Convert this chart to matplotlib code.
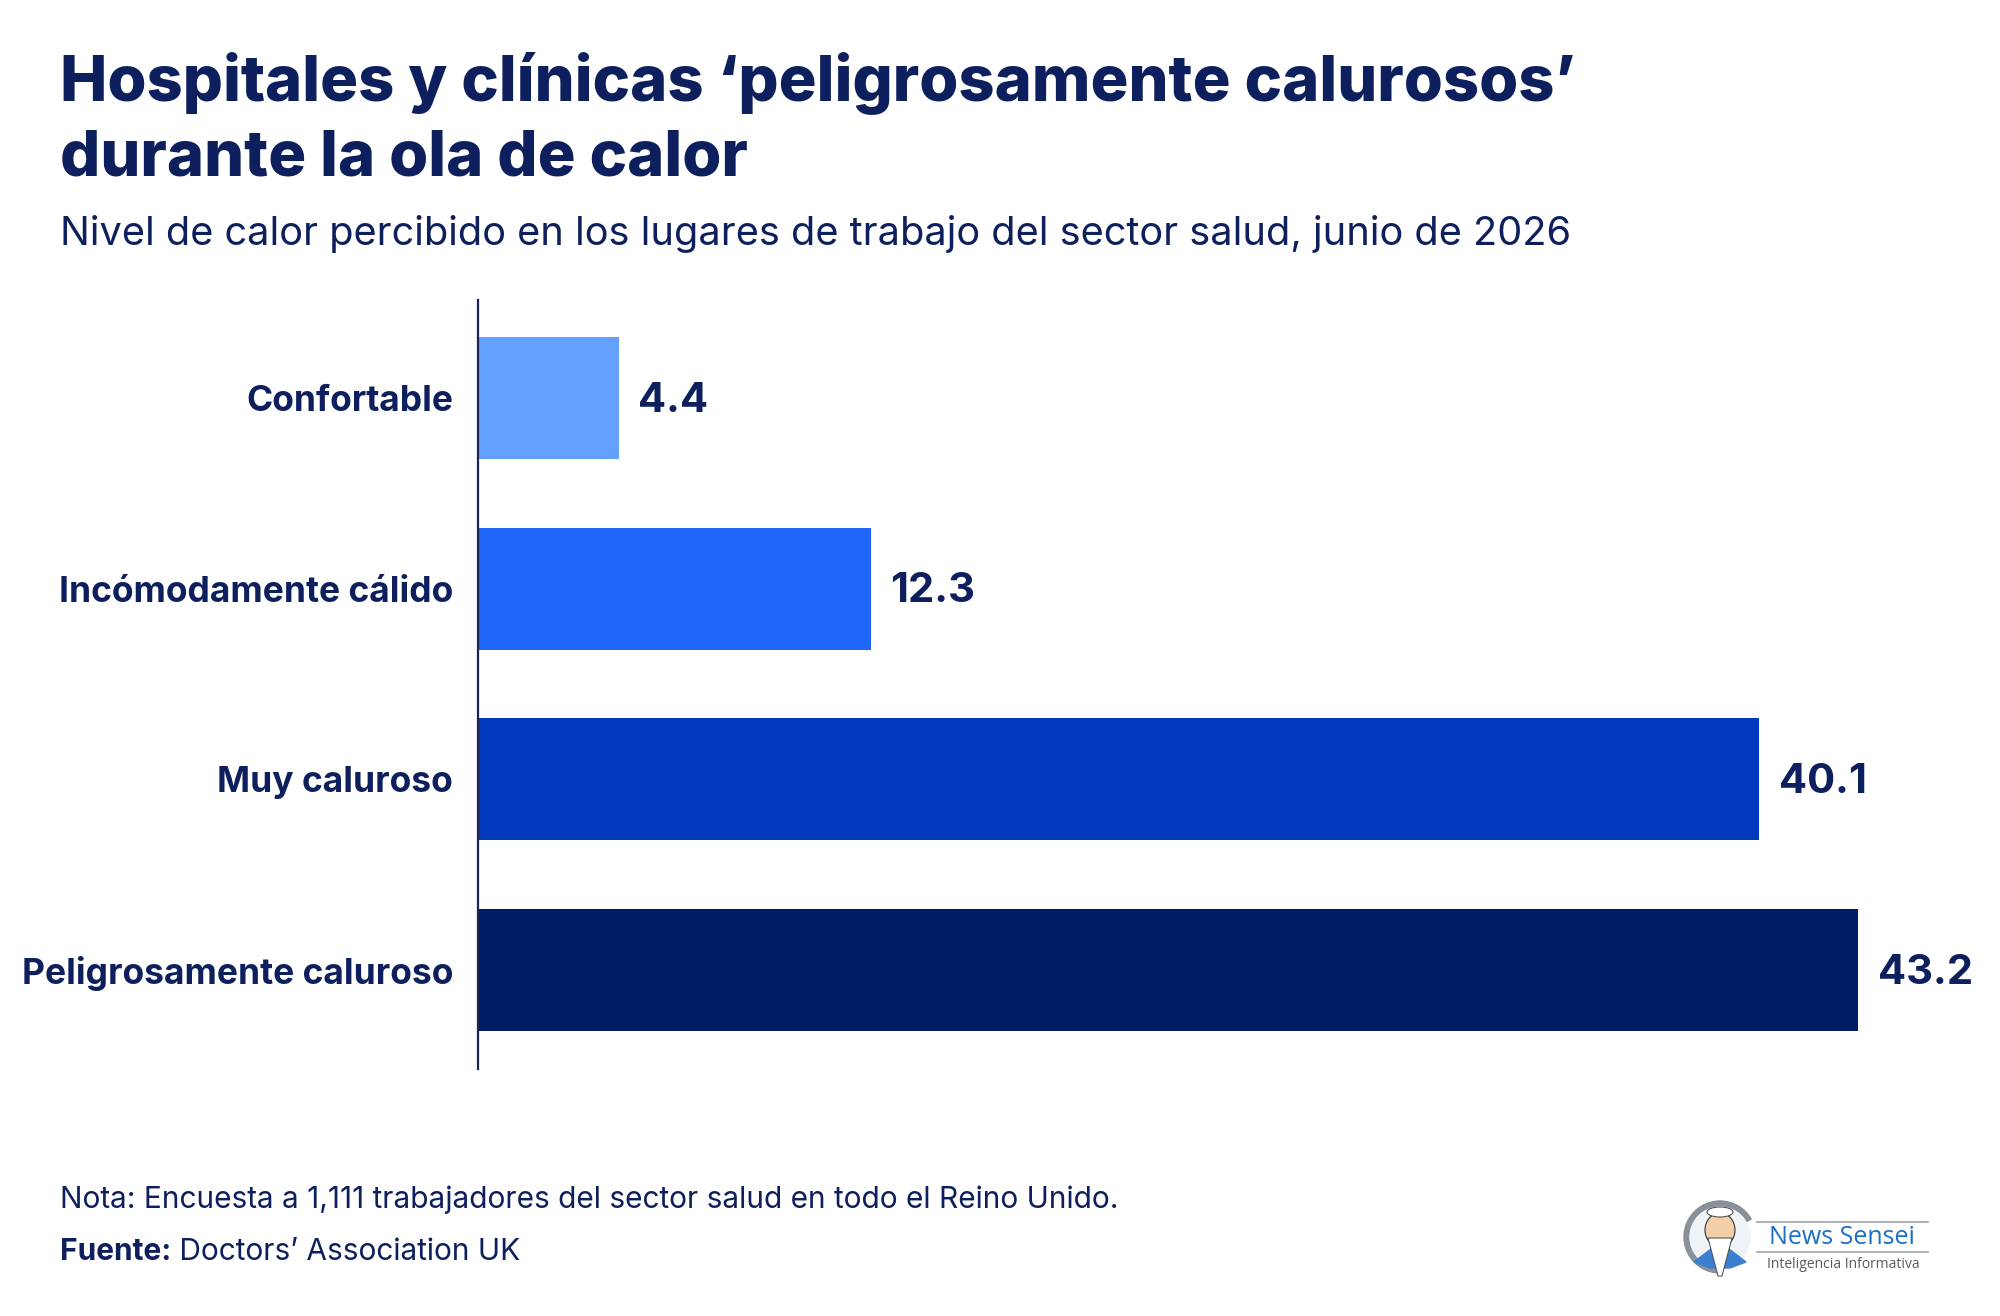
import numpy as np
import matplotlib
matplotlib.use("Agg")
import matplotlib.pyplot as plt
from matplotlib.patches import Circle, Ellipse, Wedge, Polygon

categories = ["Confortable", "Incómodamente cálido", "Muy caluroso", "Peligrosamente caluroso"]
values = [4.4, 12.3, 40.1, 43.2]
bar_colors = ["#62a1ff", "#1f66fa", "#0039be", "#001c64"]

title = "Hospitales y clínicas ‘peligrosamente calurosos’\ndurante la ola de calor"
subtitle = "Nivel de calor percibido en los lugares de trabajo del sector salud, junio de 2026"
note = "Nota: Encuesta a 1,111 trabajadores del sector salud en todo el Reino Unido."
source_label = "Fuente:"
source = " Doctors’ Association UK"

navy = "#0e1f5e"
plt.rcParams["font.family"] = ["Inter", "DejaVu Sans"]

W, H = 2000, 1316
fig = plt.figure(figsize=(W / 100, H / 100), dpi=100)
fig.patch.set_facecolor("white")

# axes placed in pixel terms
x0, x1 = 478, 1900
ytop, ybot = 300, 1069
ax = fig.add_axes([x0 / W, 1 - ybot / H, (x1 - x0) / W, (ybot - ytop) / H])

y = np.arange(len(categories))
bars = ax.barh(y, values, height=0.64, color=bar_colors)
ax.set_xlim(0, 44.5)
ax.set_ylim(3.52, -0.514)

ax.set_yticks(y)
ax.set_yticklabels(categories, fontsize=25.5, fontweight="bold", color=navy)
ax.tick_params(axis="y", length=0, pad=18)
ax.set_xticks([])
for s in ["top", "right", "bottom"]:
    ax.spines[s].set_visible(False)
ax.spines["left"].set_color("#1c2452")
ax.spines["left"].set_linewidth(1.6)

for rect, v in zip(bars, values):
    ax.annotate(f"{v:.1f}", xy=(rect.get_width(), rect.get_y() + rect.get_height() / 2),
                xytext=(14, -2), textcoords="offset points", ha="left", va="center",
                fontsize=30, fontweight="bold", color=navy)

# titles
fig.text(60 / W, 1 - 175 / H, title, fontsize=45.5, fontweight="heavy", color=navy,
         ha="left", va="baseline", linespacing=1.3)
fig.text(60 / W, 1 - 245 / H, subtitle, fontsize=28.6, color=navy, ha="left", va="baseline")

# footer
fig.text(60 / W, 1 - 1208 / H, note, fontsize=21.5, color=navy, ha="left", va="baseline")
t = fig.text(60 / W, 1 - 1260 / H, source_label, fontsize=21.5, fontweight="bold", color=navy,
             ha="left", va="baseline")
fig.canvas.draw()
bb = t.get_window_extent()
fig.text(bb.x1 / W, 1 - 1260 / H, source, fontsize=21.5, color=navy, ha="left", va="baseline")

# logo
lg = fig.add_axes([0, 0, 1, 1], zorder=-1)
lg.set_xlim(0, W)
lg.set_ylim(H, 0)
lg.axis("off")
lg.add_patch(Wedge((1720, 1237), 36, 90, 330, width=5, color="#8a9097"))
lg.add_patch(Circle((1720, 1237), 30, color="#eef3f8"))
lg.add_patch(Polygon([[1694, 1262], [1720, 1242], [1746, 1262], [1730, 1268], [1710, 1268]],
                     closed=True, color="#3b7fd0"))
lg.add_patch(Ellipse((1720, 1230), 30, 34, color="#f2cfa8", ec="#333333", lw=0.8))
lg.add_patch(Ellipse((1720, 1212), 26, 10, color="white", ec="#555555", lw=0.8))
lg.add_patch(Polygon([[1708, 1238], [1732, 1238], [1722, 1276], [1718, 1276]], closed=True,
                     color="white", ec="#555555", lw=0.8))
lg.plot([1757, 1928], [1222, 1222], color="#9aa3ad", lw=1.2)
lg.plot([1757, 1928], [1252, 1252], color="#9aa3ad", lw=1.2)
lg.text(1842, 1237, "News Sensei", fontsize=18, color="#1b6fc6", ha="center", va="center",
        family=["Open Sans", "DejaVu Sans"])
lg.text(1843, 1264, "Inteligencia Informativa", fontsize=10, color="#555b63", ha="center",
        va="center", family=["Open Sans", "DejaVu Sans"])

fig.savefig("out.png", dpi=100, facecolor="white")
